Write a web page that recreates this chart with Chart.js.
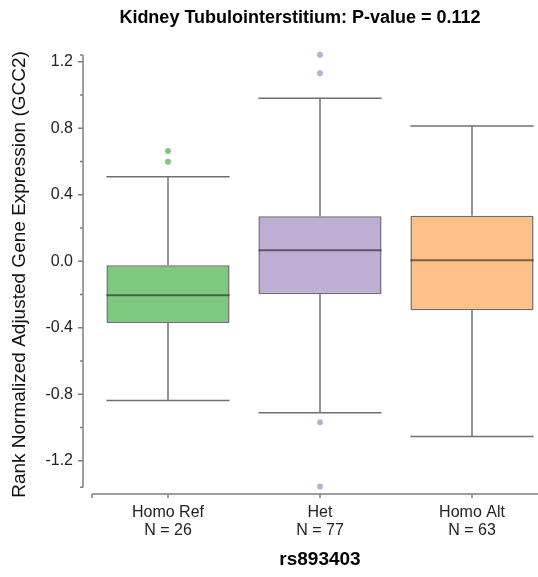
<!DOCTYPE html>
<html>
<head>
<meta charset="utf-8">
<script src="https://cdn.jsdelivr.net/npm/chart.js@4.4.1/dist/chart.umd.min.js"></script>
<style>
  html, body { margin: 0; padding: 0; background: #fff; overflow: hidden; }
  #wrap { width: 538px; height: 577px; overflow: hidden; }
</style>
</head>
<body>
<div id="wrap"><canvas id="boxChart" width="600" height="577"></canvas></div>
<script>
const groups = ["Homo Ref", "Het", "Homo Alt"];
const counts = [26, 77, 63];
const q1 = [-0.372, -0.199, -0.295];
const medians = [-0.205, 0.066, 0.006];
const q3 = [-0.024, 0.271, 0.273];
const whiskerLow = [-0.837, -0.911, -1.054];
const whiskerHigh = [0.508, 0.980, 0.813];
const boxFills = ["#7fc97f", "#beaed4", "#fdc086"];

const outlierGroups = ["Homo Ref", "Homo Ref", "Het", "Het", "Het", "Het"];
const outlierValues = [0.663, 0.598, 1.241, 1.131, -0.968, -1.355];

const majorTicks = [-1.2, -0.8, -0.4, 0.0, 0.4, 0.8, 1.2];
const minorTicks = [-1.0, -0.6, -0.2, 0.2, 0.6, 1.0];
const yAxisEnds = [-1.36, 1.24];

const FONT = "'Liberation Sans', Arial, Helvetica, sans-serif";

// whiskers, medians and the detached axes
const boxExtras = {
  id: "boxExtras",
  beforeDatasetsDraw(chart) {
    const { ctx, scales: { y } } = chart;
    ctx.save();
    ctx.strokeStyle = "#707070";
    ctx.lineWidth = 1.5;
    chart.getDatasetMeta(0).data.forEach((bar, i) => {
      const { x: cx, width } = bar.getProps(["x", "width"], true);
      const half = width / 2;
      const hi = y.getPixelForValue(whiskerHigh[i]);
      const lo = y.getPixelForValue(whiskerLow[i]);
      ctx.beginPath();
      ctx.moveTo(cx, hi); ctx.lineTo(cx, y.getPixelForValue(q3[i]));
      ctx.moveTo(cx, lo); ctx.lineTo(cx, y.getPixelForValue(q1[i]));
      ctx.moveTo(cx - half, hi); ctx.lineTo(cx + half, hi);
      ctx.moveTo(cx - half, lo); ctx.lineTo(cx + half, lo);
      ctx.stroke();
    });
    ctx.restore();
  },
  afterDatasetsDraw(chart) {
    const { ctx, scales: { y } } = chart;
    ctx.save();
    ctx.strokeStyle = "rgba(30, 30, 30, 0.6)";
    ctx.lineWidth = 2;
    chart.getDatasetMeta(0).data.forEach((bar, i) => {
      const { x: cx, width } = bar.getProps(["x", "width"], true);
      const my = y.getPixelForValue(medians[i]);
      ctx.beginPath();
      ctx.moveTo(cx - width / 2, my);
      ctx.lineTo(cx + width / 2, my);
      ctx.stroke();
    });
    ctx.restore();
  },
  afterDraw(chart) {
    const { ctx, chartArea, scales: { x, y } } = chart;
    ctx.save();
    ctx.strokeStyle = "#808080";
    ctx.lineWidth = 1.5;

    // y axis, pulled left of the plot
    const ax = chartArea.left - 9;
    const top = y.getPixelForValue(yAxisEnds[1]);
    const bot = y.getPixelForValue(yAxisEnds[0]);
    ctx.beginPath();
    ctx.moveTo(ax, top); ctx.lineTo(ax, bot);
    ctx.moveTo(ax, top); ctx.lineTo(ax - 3, top);
    ctx.moveTo(ax, bot); ctx.lineTo(ax - 3, bot);
    majorTicks.forEach(v => {
      const py = y.getPixelForValue(v);
      ctx.moveTo(ax, py); ctx.lineTo(ax - 5, py);
    });
    minorTicks.forEach(v => {
      const py = y.getPixelForValue(v);
      ctx.moveTo(ax, py); ctx.lineTo(ax - 3, py);
    });
    ctx.stroke();

    // x axis
    const ay = chartArea.bottom;
    ctx.beginPath();
    ctx.moveTo(chartArea.left, ay); ctx.lineTo(chartArea.right, ay);
    ctx.moveTo(chartArea.left, ay); ctx.lineTo(chartArea.left, ay + 4);
    groups.forEach((g, i) => {
      const px = x.getPixelForValue(i);
      ctx.moveTo(px, ay); ctx.lineTo(px, ay + 4);
    });
    ctx.stroke();
    ctx.restore();
  }
};

new Chart(document.getElementById("boxChart"), {
  type: "bar",
  data: {
    labels: groups,
    datasets: [
      {
        label: "IQR",
        data: groups.map((g, i) => [q1[i], q3[i]]),
        backgroundColor: boxFills,
        borderColor: "rgba(60, 60, 60, 0.75)",
        borderWidth: 1.5,
        borderSkipped: false,
        barPercentage: 0.81,
        categoryPercentage: 1,
        order: 2
      },
      {
        type: "line",
        label: "Outliers",
        data: outlierGroups.map((g, i) => ({ x: g, y: outlierValues[i] })),
        showLine: false,
        pointRadius: 3,
        pointBorderWidth: 0,
        pointBackgroundColor: ctx => boxFills[groups.indexOf(outlierGroups[ctx.dataIndex])],
        clip: false,
        order: 1
      }
    ]
  },
  options: {
    responsive: false,
    animation: false,
    layout: { padding: 0 },
    plugins: {
      legend: { display: false },
      tooltip: { enabled: false },
      title: {
        display: true,
        text: "Kidney Tubulointerstitium: P-value = 0.112",
        color: "#000",
        font: { family: FONT, size: 18, weight: "bold" },
        padding: { top: 7, bottom: 26.4 }
      }
    },
    scales: {
      x: {
        grid: { display: false, drawTicks: false },
        border: { display: false },
        ticks: {
          color: "#222",
          font: { family: FONT, size: 16, lineHeight: 1.15 },
          padding: 9,
          maxRotation: 0,
          callback: (v, i) => [groups[i], "N = " + counts[i]]
        },
        title: {
          display: true,
          text: "rs893403",
          color: "#000",
          font: { family: FONT, size: 19, weight: "bold" },
          padding: { top: 0, bottom: 6 }
        },
        afterFit: scale => { scale.height = 83; }
      },
      y: {
        min: -1.40,
        max: 1.24,
        grid: { display: false, drawTicks: false },
        border: { display: false },
        afterBuildTicks: scale => { scale.ticks = majorTicks.map(v => ({ value: v })); },
        ticks: {
          color: "#222",
          font: { family: FONT, size: 16 },
          padding: 19,
          callback: v => v.toFixed(1)
        },
        title: {
          display: true,
          text: "Rank Normalized Adjusted Gene Expression (GCC2)",
          color: "#111",
          font: { family: FONT, size: 19 },
          padding: { top: 8, bottom: 0 }
        },
        afterFit: scale => { scale.width = 92; }
      },
      // empty right-hand spacer so the plot runs past the visible edge
      spacer: {
        type: "linear",
        position: "right",
        grid: { display: false },
        border: { display: false },
        ticks: { display: false },
        afterFit: scale => { scale.width = 52; }
      }
    }
  },
  plugins: [boxExtras]
});
</script>
</body>
</html>
